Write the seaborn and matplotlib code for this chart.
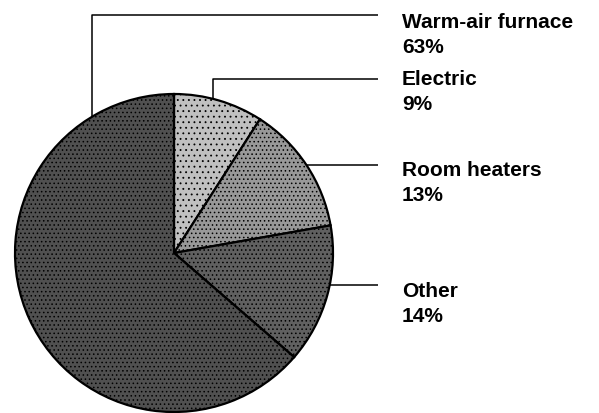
import numpy as np
import pandas as pd
import matplotlib
matplotlib.use("Agg")
import matplotlib.pyplot as plt
import seaborn as sns

# heating equipment share, clockwise from 12 o'clock
labels = ["Electric", "Room heaters", "Other", "Warm-air furnace"]
shares = [9, 13, 14, 63]
fills = ["#c0c0c0", "#989898", "#606060", "#505050"]
hatches = ["...", "....", "....", "...."]

df = pd.DataFrame({"label": labels, "share": shares})

sns.set_style("white")
plt.rcParams["font.family"] = ["Liberation Sans", "DejaVu Sans"]
plt.rcParams["hatch.linewidth"] = 0.6

H = 413
fig = plt.figure(figsize=(5.99, 4.13), dpi=100)
ax = fig.add_axes([0, 0, 1, 1])

cx, cy, r = 174, H - 253, 159
wedges, _ = ax.pie(df["share"], startangle=90, counterclock=False,
                   colors=fills, center=(cx, cy), radius=r,
                   wedgeprops=dict(edgecolor="black", linewidth=1.6))
for w, h in zip(wedges, hatches):
    w.set_hatch(h)

ax.set_xlim(0, 599)
ax.set_ylim(0, H)
ax.set_aspect("equal")
ax.axis("off")

# leader lines (pixel layout, y measured from top)
lk = dict(color="black", lw=1.1, solid_capstyle="butt")
def edge_y(x):
    return np.sqrt(r**2 - (x - cx)**2)
def edge_x(y):
    return cx + np.sqrt(r**2 - (cy - y)**2)

# Warm-air furnace
ax.plot([92, 92, 378], [cy + edge_y(92), H - 15, H - 15], **lk)
# Electric
ax.plot([213, 213, 378], [cy + edge_y(213), H - 79, H - 79], **lk)
# Room heaters
ax.plot([edge_x(H - 165), 378], [H - 165, H - 165], **lk)
# Other
ax.plot([edge_x(H - 285), 378], [H - 285, H - 285], **lk)

text_base = {"Warm-air furnace": 28, "Electric": 85, "Room heaters": 176, "Other": 297}
tk = dict(fontsize=15, fontweight="bold", va="baseline", ha="left", color="black")
for lab, s in zip(df["label"], df["share"]):
    yb = text_base[lab]
    ax.text(402, H - yb, lab, **tk)
    ax.text(402, H - yb - 25, f"{s}%", **tk)

fig.savefig("out.png", dpi=100)
